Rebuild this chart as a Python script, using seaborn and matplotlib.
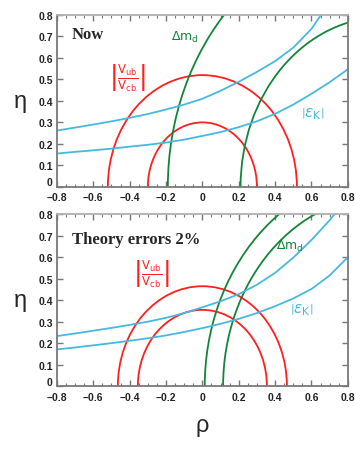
import matplotlib
matplotlib.use("Agg")
import matplotlib.pyplot as plt
from matplotlib.patches import Arc
from matplotlib.transforms import ScaledTranslation
import seaborn as sns

rho = [-0.8, -0.7, -0.6, -0.5, -0.4, -0.3, -0.2, -0.1, 0.0,
       0.1, 0.2, 0.3, 0.4, 0.5, 0.6, 0.7, 0.8]

# |eps_K| band edges (eta), "Now"
epsk_now_upper = [0.262, 0.276, 0.290, 0.305, 0.321, 0.339, 0.360, 0.383, 0.410,
                  0.447, 0.489, 0.535, 0.585, 0.648, 0.735, 0.860, 1.030]
epsk_now_lower = [0.155, 0.163, 0.170, 0.178, 0.187, 0.196, 0.206, 0.220, 0.237,
                  0.255, 0.278, 0.305, 0.340, 0.383, 0.433, 0.487, 0.547]
# |eps_K| band edges (eta), "Theory errors 2%"
epsk_th_upper = [0.233, 0.245, 0.258, 0.271, 0.285, 0.300, 0.318, 0.340, 0.367,
                 0.395, 0.428, 0.472, 0.527, 0.598, 0.680, 0.772, 0.875]
epsk_th_lower = [0.171, 0.180, 0.190, 0.200, 0.211, 0.223, 0.236, 0.252, 0.270,
                 0.290, 0.313, 0.340, 0.372, 0.408, 0.452, 0.515, 0.600]

# |Vub/Vcb| circles around (0,0): radii
vub_now = [0.30, 0.52]
vub_th = [0.355, 0.465]
# Delta m_d circles around (1,0): radii
dmd_center = 1.0
dmd_now = [0.79, 1.19]
dmd_th = [0.886, 0.987]

xticks = [-0.8, -0.6, -0.4, -0.2, 0.0, 0.2, 0.4, 0.6, 0.8]
xticklabels = ["\u22120.8", "\u22120.6", "\u22120.4", "\u22120.2", "0", "0.2", "0.4", "0.6", "0.8"]
yticks = [0.0, 0.1, 0.2, 0.3, 0.4, 0.5, 0.6, 0.7, 0.8]
yticklabels = ["0", "0.1", "0.2", "0.3", "0.4", "0.5", "0.6", "0.7", "0.8"]

RED = "#ff1f1f"
GREEN = "#13853a"
BLUE = "#47b9dc"

sns.set_style("ticks")
plt.rcParams["font.family"] = ["Liberation Sans", "DejaVu Sans"]

fig = plt.figure(figsize=(3.56, 4.56), dpi=100)
ax_top = fig.add_axes([0.160, 0.588, 0.817, 0.377])
ax_bot = fig.add_axes([0.160, 0.151, 0.817, 0.377])


def draw_panel(ax, vub, dmd, eps_up, eps_lo):
    for r in vub:
        ax.add_patch(Arc((0, 0), 2 * r, 2 * r, theta1=0, theta2=180,
                         color=RED, lw=1.3))
    for r in dmd:
        ax.add_patch(Arc((dmd_center, 0), 2 * r, 2 * r, theta1=0, theta2=180,
                         color=GREEN, lw=1.3))
    sns.lineplot(x=rho, y=eps_up, ax=ax, color=BLUE, lw=1.3)
    sns.lineplot(x=rho, y=eps_lo, ax=ax, color=BLUE, lw=1.3)

    ax.set_xlim(-0.8, 0.8)
    ax.set_ylim(0, 0.8)
    ax.set_xticks(xticks)
    ax.set_xticklabels(xticklabels)
    ax.set_yticks(yticks)
    ax.set_yticklabels(yticklabels)
    ax.set_xticks([x / 20 for x in range(-16, 17)], minor=True)
    ax.tick_params(which="both", direction="in", top=True, right=True,
                   colors="#777777", labelcolor="#222222", labelsize=7.5)
    ax.tick_params(axis="x", pad=4)
    ax.tick_params(axis="y", pad=3)
    ax.tick_params(which="major", length=4, width=1)
    ax.tick_params(which="minor", length=2, width=0.8)
    for lab in ax.get_xticklabels() + ax.get_yticklabels():
        lab.set_fontweight("bold")
    # lift the "0" label off the corner, as in the original
    zero = ax.get_yticklabels()[0]
    zero.set_transform(zero.get_transform()
                       + ScaledTranslation(0, 4 / 72, fig.dpi_scale_trans))
    for s in ax.spines.values():
        s.set_color("#7a7a7a")
        s.set_linewidth(1.3)
    ax.spines["top"].set_color("#b0b0b0")
    ax.set_ylabel("\u03b7", fontsize=17, rotation=0, va="center")
    ax.yaxis.set_label_coords(-0.125, 0.5)
    ax.set_xlabel("")


draw_panel(ax_top, vub_now, dmd_now, epsk_now_upper, epsk_now_lower)
draw_panel(ax_bot, vub_th, dmd_th, epsk_th_upper, epsk_th_lower)

vub_label = r"$\left|\frac{\mathrm{V}_{\rm ub}}{\mathrm{V}_{\rm cb}}\right|$"
dmd_label = r"$\Delta\mathrm{m}_{\rm d}$"
eps_label = r"$\left|\epsilon_{\rm K}\right|$"

# Top panel labels
ax_top.text(-0.72, 0.712, "Now", family="Liberation Serif", fontweight="bold",
            fontsize=12, va="center", ha="left")
ax_top.text(-0.415, 0.51, vub_label, color=RED, fontsize=12,
            ha="center", va="center")
ax_top.text(-0.096, 0.70, dmd_label, color=GREEN, fontsize=9,
            ha="center", va="center")
ax_top.text(0.608, 0.344, eps_label, color=BLUE, fontsize=11,
            ha="center", va="center")

# Bottom panel labels
ax_bot.text(-0.72, 0.684, "Theory errors 2%", family="Liberation Serif",
            fontweight="bold", fontsize=12, va="center", ha="left")
ax_bot.text(-0.283, 0.525, vub_label, color=RED, fontsize=12,
            ha="center", va="center")
ax_bot.text(0.481, 0.656, dmd_label, color=GREEN, fontsize=9,
            ha="center", va="center")
ax_bot.text(0.547, 0.358, eps_label, color=BLUE, fontsize=11,
            ha="center", va="center")

ax_bot.set_xlabel("\u03c1", fontsize=17, labelpad=9)

fig.savefig("out.png", dpi=100)
